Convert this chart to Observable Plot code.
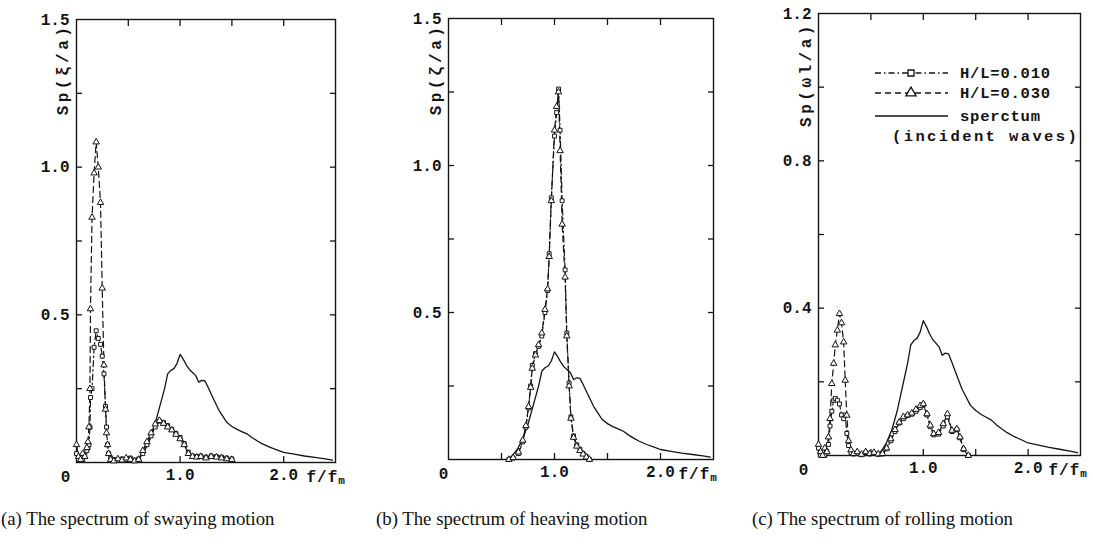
<!DOCTYPE html>
<html><head><meta charset="utf-8">
<script src="https://cdn.jsdelivr.net/npm/d3@7"></script>
<script src="https://cdn.jsdelivr.net/npm/@observablehq/plot@0.6"></script>
<style>
body{margin:0;background:#fff;width:1093px;height:547px;position:relative;overflow:hidden}
.panel{position:absolute;top:0}
.cap{position:absolute;top:508px;font-family:"Liberation Serif","DejaVu Serif",serif;font-size:18.8px;color:#111;white-space:nowrap}
#legend{position:absolute;left:0;top:0;pointer-events:none}
</style></head><body>
<script>
// ---- data ----
const specF = [0.55,0.60,0.65,0.70,0.75,0.80,0.85,0.88,0.91,0.94,0.97,1.00,1.03,1.06,1.09,1.12,1.15,1.18,1.21,1.24,1.27,1.30,1.33,1.37,1.41,1.45,1.50,1.55,1.60,1.65,1.70,1.75,1.80,1.87,1.94,2.00,2.10,2.20,2.30,2.40,2.47];
const specV = [0.0,0.012,0.035,0.07,0.12,0.185,0.25,0.30,0.312,0.318,0.335,0.366,0.35,0.33,0.315,0.305,0.295,0.272,0.278,0.276,0.255,0.232,0.21,0.18,0.158,0.136,0.122,0.112,0.104,0.096,0.083,0.072,0.062,0.051,0.042,0.034,0.028,0.022,0.017,0.012,0.008];

const swayF = [0.00,0.02,0.04,0.06,0.08,0.10,0.11,0.12,0.13,0.135,0.15,0.17,0.19,0.21,0.232,0.248,0.265,0.28,0.29,0.30,0.31,0.33,0.36,0.40,0.44,0.48,0.52,0.56,0.60,0.64,0.68,0.72,0.76,0.80,0.84,0.88,0.92,0.96,1.00,1.04,1.08,1.12,1.16,1.20,1.25,1.30,1.35,1.40,1.45,1.50];
const sway030 = [0.06,0.02,0.01,0.03,0.02,0.05,0.07,0.12,0.25,0.52,0.83,0.98,1.085,1.0,0.88,0.59,0.33,0.18,0.10,0.06,0.03,0.01,0.005,0.012,0.008,0.015,0.01,0.005,0.01,0.04,0.07,0.10,0.13,0.142,0.132,0.12,0.11,0.095,0.08,0.06,0.03,0.02,0.018,0.02,0.015,0.02,0.018,0.015,0.012,0.01];
const sway010 = [0.03,0.01,0.02,0.01,0.03,0.04,0.05,0.06,0.12,0.22,0.25,0.39,0.446,0.42,0.40,0.36,0.30,0.19,0.12,0.06,0.03,0.015,0.01,0.008,0.012,0.01,0.015,0.008,0.012,0.03,0.06,0.09,0.12,0.14,0.135,0.125,0.112,0.098,0.085,0.064,0.035,0.022,0.02,0.022,0.018,0.022,0.02,0.018,0.015,0.012];

const heaveF = [0.57,0.61,0.66,0.70,0.73,0.755,0.775,0.79,0.82,0.85,0.88,0.91,0.935,0.95,0.97,1.00,1.02,1.038,1.053,1.072,1.10,1.116,1.138,1.155,1.18,1.21,1.24,1.27,1.30,1.33];
const heave010 = [0.0,0.005,0.02,0.06,0.11,0.175,0.25,0.32,0.36,0.385,0.42,0.50,0.575,0.70,0.89,1.10,1.18,1.26,1.12,0.88,0.645,0.43,0.26,0.145,0.08,0.05,0.035,0.02,0.01,0.0];
const heave030 = [0.0,0.006,0.025,0.065,0.115,0.18,0.245,0.31,0.355,0.39,0.43,0.51,0.58,0.69,0.88,1.12,1.20,1.25,1.05,0.80,0.62,0.42,0.25,0.14,0.075,0.045,0.03,0.018,0.008,0.0];

const rollF = [0.00,0.02,0.04,0.06,0.08,0.095,0.11,0.127,0.145,0.16,0.18,0.20,0.22,0.24,0.255,0.27,0.287,0.31,0.334,0.37,0.41,0.45,0.49,0.53,0.57,0.61,0.65,0.69,0.73,0.77,0.81,0.85,0.89,0.93,0.97,1.00,1.035,1.067,1.10,1.146,1.19,1.23,1.274,1.32,1.35,1.385,1.43];
const roll030 = [0.03,0.01,0.0,0.02,0.01,0.05,0.10,0.195,0.25,0.30,0.34,0.385,0.36,0.308,0.204,0.109,0.04,0.015,0.005,0.01,0.003,0.01,0.005,0.008,0.004,0.005,0.02,0.045,0.07,0.09,0.105,0.11,0.115,0.125,0.135,0.14,0.113,0.082,0.059,0.062,0.086,0.113,0.068,0.072,0.05,0.018,0.0];
const roll010 = [0.02,0.0,0.01,0.0,0.01,0.03,0.08,0.12,0.15,0.155,0.15,0.14,0.11,0.10,0.11,0.06,0.027,0.008,0.004,0.006,0.002,0.008,0.004,0.006,0.003,0.004,0.018,0.04,0.065,0.088,0.10,0.108,0.112,0.12,0.13,0.138,0.11,0.078,0.056,0.058,0.08,0.105,0.065,0.07,0.048,0.016,0.0];

const xTicks = [0.5,1.0,1.5,2.0];
const xTickLabels = [1.0,2.0];
const yTicksAB = [0.25,0.5,0.75,1.0,1.25];
const yLabelsAB = [0.5,1.0,1.5];
const yTicksC = [0.2,0.4,0.6,0.8,1.0];
const yLabelsC = [0.4,0.8,1.2];
const legendLabels = ["H/L=0.010","H/L=0.030","sperctum","(incident waves)"];
const captions = ["(a) The spectrum of swaying motion","(b) The spectrum of heaving motion","(c) The spectrum of rolling motion"];

// ---- helpers ----
const rows = (F, V) => F.map((f, i) => ({f, v: V[i]}));
const spec = rows(specF, specV);
const INK = "#141414";
const MONO = "'Liberation Mono','DejaVu Sans Mono',monospace";

function panel(cfg) {
  const ML = 76, MR = 14, MB = 42;
  const s10 = rows(cfg.F, cfg.v10), s30 = rows(cfg.F, cfg.v30);
  const plot = Plot.plot({
    width: ML + cfg.frameW + MR,
    height: cfg.frameBottom + MB,
    marginLeft: ML, marginRight: MR, marginTop: cfg.frameTop, marginBottom: MB,
    x: {domain: [0, 2.5]},
    y: {domain: [0, cfg.yMax]},
    style: {fontFamily: MONO, fontSize: "16px", fontWeight: "bold", color: INK, background: "transparent", overflow: "visible"},
    marks: [
      Plot.frame({stroke: INK, strokeWidth: 1.4}),
      Plot.axisX({anchor: "bottom", ticks: xTicks, tickSize: -6, tickFormat: () => "", label: null, strokeWidth: 1.3}),
      Plot.axisX({anchor: "top", ticks: xTicks, tickSize: -6, tickFormat: () => "", label: null, strokeWidth: 1.3}),
      Plot.axisY({anchor: "left", ticks: cfg.yTicks, tickSize: -6, tickFormat: () => "", label: null, strokeWidth: 1.3}),
      Plot.axisY({anchor: "right", ticks: cfg.yTicks, tickSize: -6, tickFormat: () => "", label: null, strokeWidth: 1.3}),
      Plot.axisX({anchor: "bottom", ticks: xTickLabels, tickSize: 0, tickPadding: 6, tickFormat: d => d.toFixed(1), label: null, fontSize: 16}),
      Plot.axisY({anchor: "left", ticks: cfg.yLabels, tickSize: 0, tickPadding: 7, tickFormat: d => d.toFixed(1), label: null, fontSize: 16}),
      Plot.line(spec, {x: "f", y: "v", stroke: INK, strokeWidth: 1.3}),
      Plot.line(s10, {x: "f", y: "v", stroke: INK, strokeWidth: 1.2, strokeDasharray: "6,3,1.5,3"}),
      Plot.line(s30, {x: "f", y: "v", stroke: INK, strokeWidth: 1.2, strokeDasharray: "6,4"}),
      Plot.dot(s10, {x: "f", y: "v", symbol: "square", r: 2.2, fill: "white", stroke: INK, strokeWidth: 1}),
      Plot.dot(s30, {x: "f", y: "v", symbol: "triangle", r: 2.4, fill: "white", stroke: INK, strokeWidth: 1}),
      Plot.text(["0"], {frameAnchor: "bottom-left", dx: cfg.zeroDx, dy: 14, textAnchor: "middle", lineAnchor: "middle", fontSize: 16, fontWeight: "bold"}),
      Plot.text(["f/fm"], {frameAnchor: "bottom-right", dx: cfg.ffDx, dy: 14, textAnchor: "start", lineAnchor: "middle", fontSize: 16, fontWeight: "bold"}),
      Plot.text([cfg.yLabel], {frameAnchor: "top-left", dx: cfg.ylDx, dy: cfg.ylDy, rotate: -90, textAnchor: "middle", lineAnchor: "middle", fontSize: 16, fontWeight: "bold"})
    ]
  });
  const sel = d3.select(plot).selectAll("text");
  sel.filter(function() { return this.textContent === "f/fm"; })
    .attr("letter-spacing", "1px")
    .html('f/f<tspan font-size="11" dy="2">m</tspan>');
  sel.filter(function() { return this.textContent === cfg.yLabel; })
    .attr("letter-spacing", cfg.ylSpacing);
  plot.classList.add("panel");
  plot.style.left = (cfg.frameLeft - ML) + "px";
  document.body.appendChild(plot);
}

panel({frameLeft: 76, frameW: 259, frameTop: 19, frameBottom: 462, yMax: 1.5, yTicks: yTicksAB, yLabels: yLabelsAB,
  F: swayF, v10: sway010, v30: sway030, yLabel: "Sp(ξ/a)", zeroDx: -11, ffDx: -29, ylDx: -14, ylDy: 50, ylSpacing: "3.5px"});
panel({frameLeft: 448, frameW: 265, frameTop: 18, frameBottom: 459, yMax: 1.5, yTicks: yTicksAB, yLabels: yLabelsAB,
  F: heaveF, v10: heave010, v30: heave030, yLabel: "Sp(ζ/a)", zeroDx: -5, ffDx: -35, ylDx: -13, ylDy: 51, ylSpacing: "3.5px"});
panel({frameLeft: 818, frameW: 262, frameTop: 13, frameBottom: 455, yMax: 1.2, yTicks: yTicksC, yLabels: yLabelsC,
  F: rollF, v10: roll010, v30: roll030, yLabel: "Sp(ωl/a)", zeroDx: -15, ffDx: -32, ylDx: -13, ylDy: 61, ylSpacing: "3.5px"});

// ---- legend (panel c) ----
const lg = d3.select(document.body).append("svg").attr("id", "legend").attr("width", 1093).attr("height", 547);
const lx0 = 875, lx1 = 948, lmx = 911;
const lrows = [
  {y: 73, dash: "6,3,1.5,3", sym: "square"},
  {y: 93, dash: "6,4", sym: "triangle"},
  {y: 116, dash: null, sym: null}
];
lrows.forEach((r, i) => {
  lg.append("line").attr("x1", lx0).attr("x2", lx1).attr("y1", r.y).attr("y2", r.y)
    .attr("stroke", INK).attr("stroke-width", 1.3).attr("stroke-dasharray", r.dash);
  if (r.sym) {
    lg.append("path").attr("transform", `translate(${lmx},${r.y})`)
      .attr("d", d3.symbol(r.sym === "square" ? d3.symbolSquare : d3.symbolTriangle, r.sym === "square" ? 36 : 45)())
      .attr("fill", "white").attr("stroke", INK).attr("stroke-width", 1.3);
  }
  lg.append("text").attr("x", 960).attr("y", r.y).attr("dy", "0.35em")
    .attr("font-family", MONO).attr("font-size", 15.5).attr("font-weight", "bold").attr("letter-spacing", "0.8px")
    .attr("fill", INK).text(legendLabels[i]);
});
lg.append("text").attr("x", 892).attr("y", 136).attr("dy", "0.35em")
  .attr("font-family", MONO).attr("font-size", 15.5).attr("font-weight", "bold").attr("letter-spacing", "2.4px")
  .attr("fill", INK).text(legendLabels[3]);

// ---- captions ----
[[1, captions[0]], [376, captions[1]], [752, captions[2]]].forEach(([x, t]) => {
  const d = document.createElement("div");
  d.className = "cap"; d.style.left = x + "px"; d.textContent = t;
  document.body.appendChild(d);
});
</script>
</body></html>
